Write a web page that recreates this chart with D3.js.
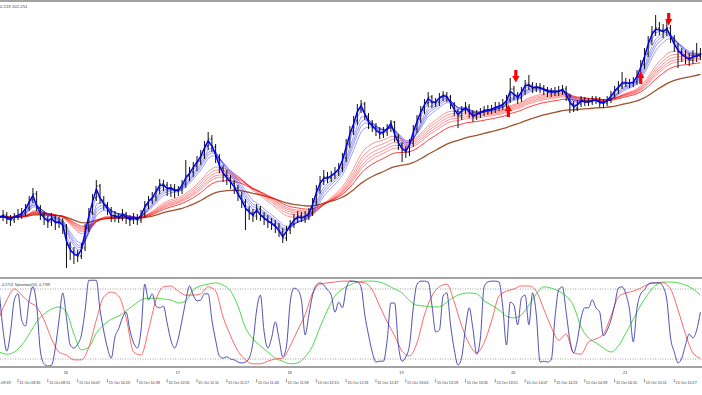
<!DOCTYPE html>
<html>
<head>
<meta charset="utf-8">
<script src="https://cdn.jsdelivr.net/npm/d3@7"></script>
<style>
  html, body { margin: 0; padding: 0; background: #fff; }
  svg { display: block; font-family: "Liberation Sans", Arial, sans-serif; }
</style>
</head>
<body>
<svg id="chart" width="702" height="395"></svg>
<script>
// 2-minute bars, first one at 15 Oct 09:25
const barStart = new Date(2024, 9, 15, 9, 25);
const barStep = 2;

const closes = [202.083,202.085,202.081,202.080,202.084,202.085,202.087,202.092,202.100,202.106,
  202.092,202.085,202.081,202.078,202.082,202.077,202.078,202.074,202.055,202.048,
  202.045,202.044,202.052,202.072,202.088,202.102,202.114,202.100,202.095,202.090,
  202.083,202.084,202.082,202.086,202.082,202.080,202.082,202.080,202.086,202.095,
  202.100,202.103,202.110,202.116,202.115,202.111,202.112,202.109,202.110,202.116,
  202.124,202.128,202.134,202.139,202.145,202.154,202.161,202.153,202.143,202.132,
  202.125,202.121,202.117,202.112,202.104,202.098,202.090,202.087,202.084,202.091,
  202.084,202.081,202.078,202.076,202.073,202.068,202.062,202.070,202.076,202.081,
  202.084,202.082,202.084,202.087,202.098,202.110,202.119,202.123,202.122,202.125,
  202.128,202.132,202.142,202.156,202.169,202.179,202.191,202.196,202.184,202.176,
  202.173,202.169,202.166,202.168,202.172,202.178,202.163,202.155,202.150,202.148,
  202.157,202.171,202.181,202.190,202.197,202.203,202.197,202.198,202.203,202.205,
  202.203,202.196,202.189,202.184,202.190,202.193,202.187,202.183,202.186,202.188,
  202.190,202.190,202.191,202.193,202.194,202.196,202.200,202.211,202.205,202.202,
  202.209,202.216,202.215,202.212,202.213,202.212,202.210,202.208,202.208,202.208,
  202.209,202.211,202.204,202.196,202.192,202.196,202.200,202.198,202.198,202.200,
  202.200,202.197,202.197,202.200,202.205,202.210,202.214,202.218,202.217,202.217,
  202.218,202.225,202.235,202.246,202.259,202.268,202.272,202.270,202.268,202.272,
  202.262,202.254,202.248,202.245,202.242,202.240,202.244,202.244,202.246];

const highs = [202.088,202.090,202.088,202.085,202.087,202.091,202.092,202.096,202.104,202.112,
  202.109,202.095,202.088,202.084,202.087,202.085,202.083,202.082,202.076,202.058,
  202.053,202.050,202.057,202.076,202.092,202.106,202.120,202.116,202.104,202.098,
  202.093,202.089,202.087,202.091,202.088,202.085,202.087,202.086,202.090,202.099,
  202.104,202.108,202.114,202.121,202.120,202.118,202.116,202.116,202.114,202.120,
  202.140,202.133,202.138,202.144,202.150,202.159,202.168,202.165,202.156,202.146,
  202.135,202.130,202.125,202.120,202.115,202.108,202.101,202.094,202.091,202.096,
  202.094,202.088,202.085,202.082,202.080,202.077,202.072,202.074,202.080,202.086,
  202.089,202.088,202.089,202.092,202.102,202.115,202.124,202.130,202.128,202.129,
  202.133,202.137,202.147,202.161,202.174,202.184,202.196,202.200,202.198,202.187,
  202.180,202.177,202.173,202.173,202.176,202.180,202.179,202.166,202.158,202.154,
  202.161,202.175,202.185,202.194,202.201,202.208,202.205,202.202,202.207,202.209,
  202.208,202.205,202.198,202.191,202.194,202.198,202.196,202.190,202.190,202.192,
  202.194,202.195,202.195,202.198,202.198,202.201,202.205,202.222,202.214,202.208,
  202.213,202.220,202.225,202.218,202.217,202.217,202.215,202.213,202.212,202.213,
  202.214,202.215,202.214,202.206,202.199,202.200,202.204,202.203,202.202,202.204,
  202.204,202.203,202.201,202.204,202.209,202.214,202.219,202.228,202.222,202.221,
  202.223,202.230,202.240,202.252,202.264,202.274,202.285,202.278,202.276,202.279,
  202.275,202.265,202.257,202.252,202.250,202.247,202.250,202.257,202.252];

const lows = [202.076,202.079,202.076,202.074,202.077,202.080,202.081,202.084,202.089,202.097,
  202.089,202.080,202.075,202.072,202.074,202.070,202.072,202.066,202.032,202.040,
  202.036,202.038,202.041,202.049,202.068,202.085,202.099,202.096,202.090,202.085,
  202.078,202.078,202.077,202.079,202.076,202.074,202.076,202.075,202.077,202.083,
  202.091,202.096,202.099,202.106,202.109,202.104,202.103,202.102,202.104,202.106,
  202.112,202.119,202.123,202.129,202.135,202.141,202.150,202.148,202.137,202.127,
  202.118,202.115,202.111,202.106,202.099,202.092,202.070,202.080,202.078,202.080,
  202.079,202.075,202.072,202.070,202.067,202.063,202.057,202.059,202.066,202.072,
  202.077,202.078,202.077,202.080,202.084,202.095,202.106,202.115,202.117,202.118,
  202.121,202.124,202.128,202.138,202.152,202.165,202.175,202.187,202.180,202.171,
  202.168,202.164,202.161,202.162,202.164,202.168,202.158,202.150,202.138,202.142,
  202.144,202.153,202.167,202.177,202.186,202.193,202.192,202.193,202.194,202.199,
  202.198,202.191,202.184,202.172,202.180,202.186,202.182,202.178,202.180,202.182,
  202.184,202.185,202.186,202.187,202.189,202.190,202.192,202.197,202.200,202.196,
  202.198,202.205,202.210,202.207,202.208,202.207,202.205,202.203,202.203,202.204,
  202.204,202.205,202.199,202.187,202.188,202.189,202.193,202.194,202.194,202.195,
  202.196,202.193,202.192,202.194,202.197,202.202,202.206,202.211,202.213,202.212,
  202.213,202.215,202.222,202.231,202.243,202.255,202.264,202.265,202.262,202.264,
  202.257,202.248,202.232,202.238,202.236,202.234,202.236,202.238,202.240];

// GMMA periods (minutes) and the slow trend average
const fastEma = 3;
const shortEmas = [5, 8, 10, 12, 15];
const longEmas = [30, 35, 40, 45, 50, 60];
const trendEma = 100;

// signal arrows [time, price]
const upArrows = [[new Date(2024, 9, 15, 13, 58), 202.189], [new Date(2024, 9, 15, 15, 9), 202.222]];
const downArrows = [[new Date(2024, 9, 15, 14, 2), 202.224], [new Date(2024, 9, 15, 15, 24), 202.281]];

// Spearman pane: fast line every 2 min, the other two every 4 min
const spearFast = [0.71,-0.14,-0.62,-0.18,0.55,0.69,0.09,-0.05,0.55,0.85,
  0.43,-0.62,-0.91,-0.96,-0.94,-0.55,0.09,0.71,0.14,-0.48,
  -0.55,-0.46,-0.25,0.32,1.0,1.0,1.0,0.32,-0.16,-0.55,
  -0.78,-0.30,-0.11,0.14,0.27,-0.14,-0.43,-0.55,-0.14,0.91,
  0.55,0.69,0.41,0.37,0.41,0.02,-0.37,-0.55,-0.32,0.09,
  0.53,0.87,0.66,0.53,0.55,0.69,0.69,0.09,-0.37,-0.73,
  -0.78,-0.75,-0.80,-0.82,-0.87,-0.89,-0.87,-0.78,-0.43,0.32,
  0.66,-0.18,-0.55,-0.32,0.05,-0.34,-0.75,-0.50,0.50,0.82,
  0.78,0.55,-0.25,0.21,0.66,0.89,0.94,0.89,0.78,0.66,
  0.27,0.50,0.37,0.80,0.98,0.98,0.96,0.85,0.21,-0.25,
  -0.64,-0.87,-0.85,-0.85,-0.37,0.48,0.48,-0.48,-0.85,-0.75,
  -0.48,0.37,0.91,0.98,0.98,0.96,0.43,-0.18,-0.14,0.64,
  0.71,-0.02,-0.59,-0.94,-0.75,-0.09,0.37,-0.11,-0.69,-0.32,
  0.85,0.96,0.98,0.98,0.96,0.39,-0.48,0.50,0.43,-0.02,
  0.59,0.66,-0.02,0.71,0.21,-0.87,-0.85,-0.87,-0.82,0.14,
  0.78,0.85,0.27,-0.37,-0.66,-0.37,0.14,0.37,0.37,0.55,
  0.37,0.27,-0.27,-0.14,0.09,0.43,0.82,0.85,0.69,0.32,
  -0.41,0.37,0.69,0.78,0.91,0.94,0.94,0.94,0.85,0.55,
  -0.32,-0.64,-0.89,-0.78,-0.48,-0.23,-0.32,-0.14,0.27];

const spearMid = [0.16,0.55,0.80,0.66,0.50,0.39,0.09,-0.34,-0.64,-0.71,
  -0.82,-0.82,-0.53,0.09,0.62,0.73,0.64,0.14,-0.64,-0.71,
  -0.14,0.55,0.85,0.87,0.75,0.66,0.66,0.69,0.85,0.75,
  0.16,-0.27,-0.62,-0.82,-0.91,-0.91,-0.85,-0.80,-0.78,-0.50,
  -0.14,0.21,0.71,0.91,0.94,0.96,0.98,0.98,0.96,0.94,
  0.78,0.41,0.05,-0.27,-0.62,-0.73,-0.43,0.21,0.64,0.85,
  0.91,0.50,-0.05,-0.46,-0.66,-0.43,0.07,0.64,0.75,0.80,
  0.87,0.87,0.75,0.34,-0.07,-0.37,-0.23,-0.66,-0.69,-0.41,
  -0.34,-0.23,0.18,0.62,0.71,0.75,0.82,0.91,0.94,0.94,
  0.80,0.32,-0.23,-0.66,-0.78];

const spearSlow = [-0.64,-0.69,-0.64,-0.48,-0.23,0.05,0.23,0.34,0.39,0.27,
  -0.23,-0.59,-0.53,-0.21,-0.02,0.11,0.18,0.30,0.43,0.55,
  0.59,0.59,0.57,0.55,0.48,0.53,0.78,0.87,0.91,0.94,
  0.89,0.75,0.41,-0.09,-0.34,-0.50,-0.64,-0.78,-0.85,-0.91,
  -0.89,-0.75,-0.50,-0.07,0.32,0.64,0.80,0.89,0.96,0.98,
  0.98,0.96,0.89,0.80,0.71,0.53,0.43,0.41,0.39,0.39,
  0.50,0.62,0.69,0.71,0.69,0.53,0.43,0.32,0.18,0.14,
  0.21,0.43,0.69,0.85,0.82,0.75,0.64,0.41,-0.07,-0.32,
  -0.43,-0.55,-0.64,-0.50,-0.21,0.11,0.43,0.69,0.89,0.96,
  0.96,0.94,0.89,0.80,0.66];

const spearLevels = [0.8, -0.8];
const spearTitle = "-0.1713  Spearman(52) -0.7769";
const headerText = "0.219 202.251";

// hour markers on the separator row
const hourMarks = [10, 11, 12, 13, 14, 15];
const hourNames = ["16", "17", "18", "19", "20", "21"];

const svg = d3.select("#chart");

const x = d3.scaleTime()
  .domain([new Date(2024, 9, 15, 9, 35), new Date(2024, 9, 15, 15, 27)])
  .range([18, 674.3]);
const y = d3.scaleLinear().domain([202.0, 202.3]).range([300, 0]);
const ySub = d3.scaleLinear().domain([-1, 1]).range([367.75, 280.25]);

const barTime = i => d3.timeMinute.offset(barStart, i * barStep);
const subTime = i => d3.timeMinute.offset(barStart, i * 4);

function ema(values, minutes) {
  const a = 2 / (minutes / barStep + 1);
  let prev = values[0];
  return values.map((v, i) => (prev = i ? prev + a * (v - prev) : v));
}

const defs = svg.append("defs");
defs.append("clipPath").attr("id", "mainClip")
  .append("rect").attr("x", 0).attr("y", 2).attr("width", 702).attr("height", 275);
defs.append("clipPath").attr("id", "subClip")
  .append("rect").attr("x", 0).attr("y", 279).attr("width", 702).attr("height", 87);

// frames
const frameColor = "#a3a3a3";
[0, 277, 366].forEach(top => {
  svg.append("rect").attr("x", 0).attr("y", top).attr("width", 702).attr("height", 2)
    .attr("fill", frameColor);
});

const main = svg.append("g").attr("clip-path", "url(#mainClip)");
const priceLine = d3.line().x((d, i) => x(barTime(i))).y(d => y(d));

// trend average
main.append("path")
  .attr("d", priceLine(ema(closes, trendEma)))
  .attr("fill", "none").attr("stroke", "#a0522d").attr("stroke-width", 1.3);

// long group
longEmas.forEach((p, k) => {
  const last = k === longEmas.length - 1;
  main.append("path")
    .attr("d", priceLine(ema(closes, p)))
    .attr("fill", "none").attr("stroke", "#ff0000")
    .attr("stroke-width", last ? 1.0 : 0.7)
    .attr("stroke-opacity", last ? 0.75 : 0.6);
});

// short group
shortEmas.forEach(p => {
  main.append("path")
    .attr("d", priceLine(ema(closes, p)))
    .attr("fill", "none").attr("stroke", "#0000ff")
    .attr("stroke-width", 0.7).attr("stroke-opacity", 0.55);
});

// bars
const bars = main.append("g").attr("stroke", "#111").attr("stroke-width", 1);
closes.forEach((c, i) => {
  const bx = x(barTime(i));
  const open = i ? closes[i - 1] : c;
  bars.append("line").attr("x1", bx).attr("x2", bx)
    .attr("y1", y(highs[i])).attr("y2", y(lows[i]));
  bars.append("line").attr("x1", bx - 1.3).attr("x2", bx)
    .attr("y1", y(open)).attr("y2", y(open));
  bars.append("line").attr("x1", bx).attr("x2", bx + 1.3)
    .attr("y1", y(c)).attr("y2", y(c));
});

main.append("path")
  .attr("d", priceLine(ema(closes, fastEma)))
  .attr("fill", "none").attr("stroke", "#0000f0").attr("stroke-width", 1.5);

// arrows
const arrowShape = "M-1.6,-6H1.6V0H3.6L0,6.5L-3.6,0H-1.6Z";
downArrows.forEach(([t, p]) => {
  main.append("path").attr("d", arrowShape)
    .attr("transform", `translate(${x(t)},${y(p)})`).attr("fill", "#f00");
});
upArrows.forEach(([t, p]) => {
  main.append("path").attr("d", arrowShape)
    .attr("transform", `translate(${x(t)},${y(p)}) rotate(180)`).attr("fill", "#f00");
});

svg.append("text").attr("x", 0).attr("y", 8)
  .attr("font-size", 4.3).attr("fill", "#444").text(headerText);

// Spearman pane
const sub = svg.append("g").attr("clip-path", "url(#subClip)");
spearLevels.forEach(v => {
  sub.append("line").attr("x1", 0).attr("x2", 702)
    .attr("y1", ySub(v)).attr("y2", ySub(v))
    .attr("stroke", "#8a8a8a").attr("stroke-width", 0.8).attr("stroke-dasharray", "1,1.5");
});

const slowLine = d3.line().x((d, i) => x(subTime(i))).y(d => ySub(d)).curve(d3.curveMonotoneX);
const fastLine = d3.line().x((d, i) => x(barTime(i))).y(d => ySub(d)).curve(d3.curveMonotoneX);

sub.append("path").attr("d", slowLine(spearSlow))
  .attr("fill", "none").attr("stroke", "#35d835").attr("stroke-width", 0.9);
sub.append("path").attr("d", slowLine(spearMid))
  .attr("fill", "none").attr("stroke", "#ff3a3a").attr("stroke-width", 0.9).attr("stroke-opacity", 0.85);
sub.append("path").attr("d", fastLine(spearFast))
  .attr("fill", "none").attr("stroke", "#3c3cb0").attr("stroke-width", 0.9);

svg.append("text").attr("x", 1).attr("y", 285.6)
  .attr("font-size", 3.5).attr("fill", "#333")
  .attr("xml:space", "preserve").text(spearTitle);

// hour markers
hourMarks.forEach((h, i) => {
  svg.append("text")
    .attr("x", x(new Date(2024, 9, 15, h, 0)) + 1.2).attr("y", 373.6)
    .attr("text-anchor", "middle").attr("font-size", 3.8).attr("fill", "#333")
    .text(hourNames[i]);
});

// time axis, every 16 minutes; the first label is clipped by the left edge as in MT4
const tickTimes = d3.range(0, 24).map(i => new Date(2024, 9, 15, 9, 19 + i * 16));
const fmt = d3.timeFormat("%d %b %H:%M");
const axis = svg.append("g");
tickTimes.forEach(t => {
  const tx = x(t);
  axis.append("line").attr("x1", tx).attr("x2", tx).attr("y1", 379).attr("y2", 382.5)
    .attr("stroke", "#555").attr("stroke-width", 0.6);
  axis.append("text").attr("x", tx + 1.3).attr("y", 384.2)
    .attr("font-size", 3.7).attr("fill", "#333").text(fmt(t));
});
</script>
</body>
</html>
